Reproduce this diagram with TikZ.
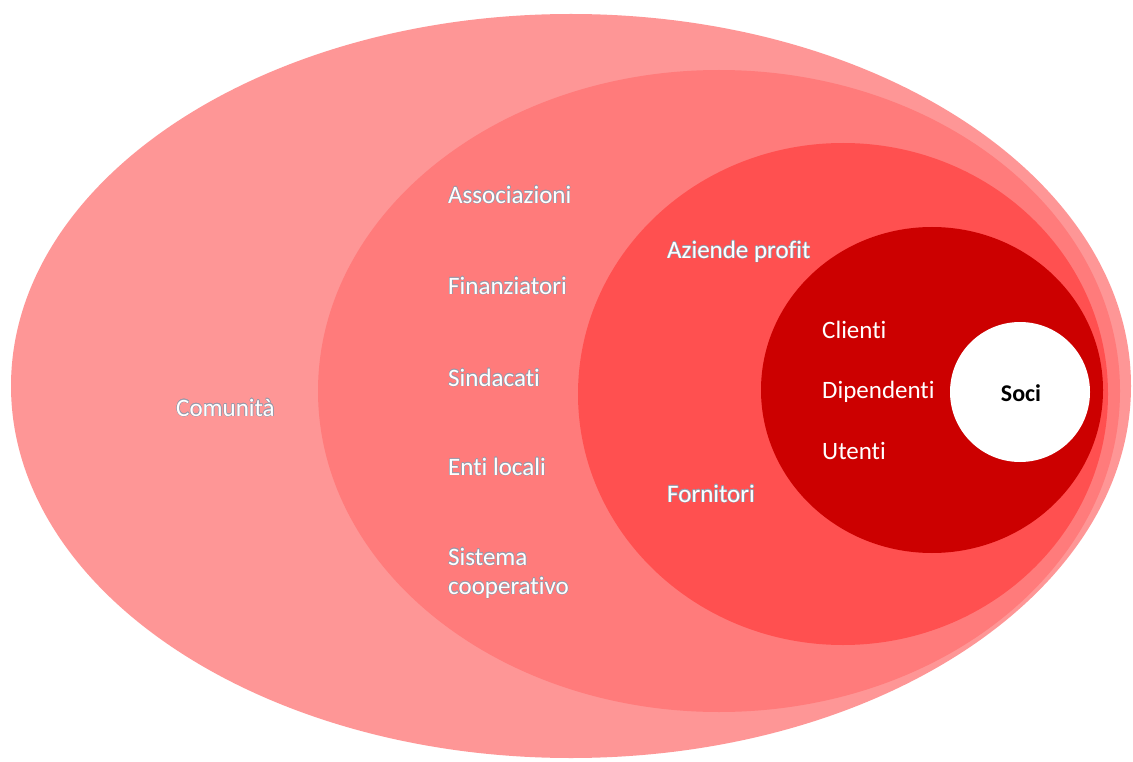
\documentclass[tikz,border=0pt]{standalone}
\usepackage{fontspec}
\setmainfont[Ligatures={NoCommon}]{Carlito}
\usepackage{contour}
\contourlength{0.45pt}
\contournumber{16}
\definecolor{ringA}{HTML}{FE9696}
\definecolor{ringB}{HTML}{FF7B7B}
\definecolor{ringC}{HTML}{FF5050}
\definecolor{ringD}{HTML}{CC0000}
\definecolor{glow}{HTML}{9A9AAA}
\tikzset{
  ring/.style={draw=none},
  lbl/.style={anchor=west, inner sep=0pt, font=\fontsize{25}{29}\selectfont, text=white, align=left},
}
\newcommand{\gl}[1]{\contour{glow}{#1}}
\begin{document}
\begin{tikzpicture}[x=1pt,y=-1pt]
\useasboundingbox (0,0) rectangle (1133,762);
\fill[white] (0,0) rectangle (1133,762);
\fill[ringA, ring] (571,386) ellipse [x radius=560, y radius=372];
\fill[ringB, ring] (719,391) ellipse [x radius=401, y radius=321];
\fill[ringC, ring] (843,394) ellipse [x radius=265, y radius=251];
\fill[ringD, ring] (932,390) ellipse [x radius=171, y radius=163];
\fill[white, ring] (1020,392) circle [radius=70];
\node[lbl] (comunita) at (176,408) {\gl{Comunità}};
\node[lbl] (assoc) at (448,195) {\gl{Associazioni}};
\node[lbl] (finanz) at (448,286) {\gl{Finanziatori}};
\node[lbl] (sindac) at (448,378) {\gl{Sindacati}};
\node[lbl] (enti) at (448,467) {\gl{Enti locali}};
\node[lbl] (sist) at (448,557) {\gl{Sistema}};
\node[lbl] (coop) at (448,588) {\gl{cooperativo}};
\node[lbl] (aziende) at (667,252) {\gl{Aziende profit}};
\node[lbl] (fornit) at (667,494) {\gl{Fornitori}};
\node[lbl] (clienti) at (822,330) {Clienti};
\node[lbl] (dipend) at (822,392) {Dipendenti};
\node[lbl] (utenti) at (822,451) {Utenti};
\node[inner sep=0pt, font=\fontsize{24}{28}\selectfont\bfseries, text=black] (soci) at (1021,393) {Soci};
\end{tikzpicture}
\end{document}
